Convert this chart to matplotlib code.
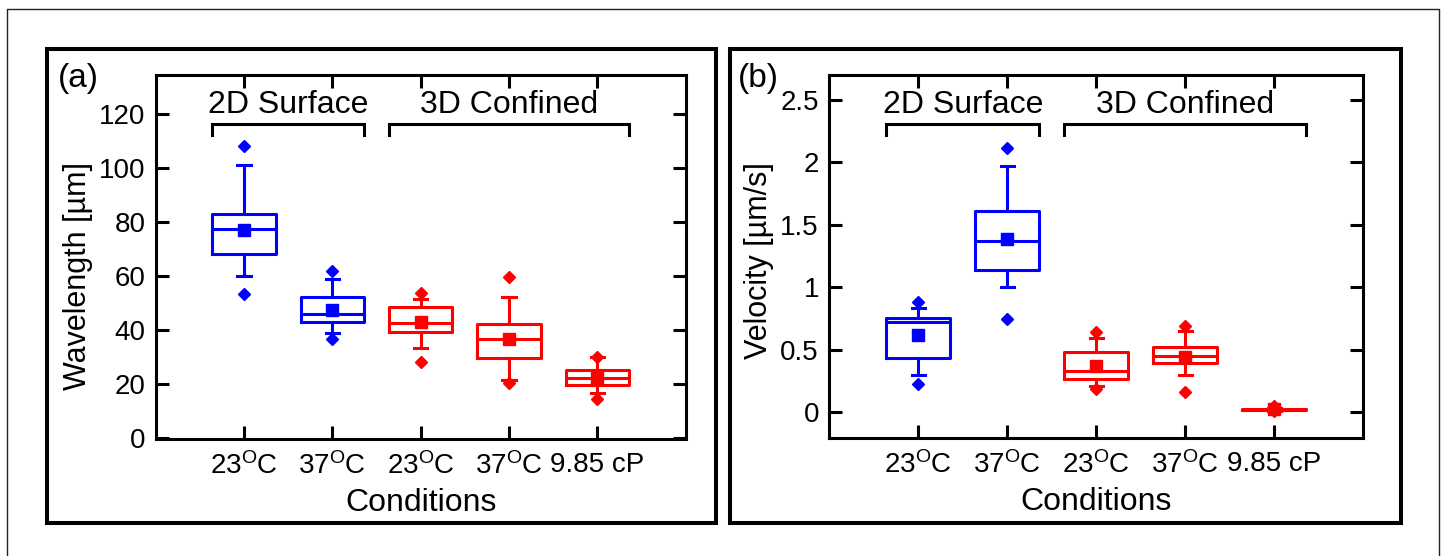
import matplotlib
matplotlib.use("Agg")
import matplotlib.pyplot as plt
from matplotlib.patches import Rectangle
from matplotlib.lines import Line2D
import matplotlib.transforms as mtransforms

plt.rcParams['font.family'] = ['Liberation Sans', 'DejaVu Sans']
plt.rcParams['mathtext.fontset'] = 'custom'
plt.rcParams['mathtext.rm'] = 'Liberation Sans'
plt.rcParams['mathtext.it'] = 'Liberation Sans:italic'

# ---- data -------------------------------------------------------------
conditions = ['23$^{\\mathrm{O}}$C', '37$^{\\mathrm{O}}$C',
              '23$^{\\mathrm{O}}$C', '37$^{\\mathrm{O}}$C', '9.85 cP']
groups = ['2D Surface', '3D Confined']
group_members = [[0, 1], [2, 3, 4]]
box_colors = ['#0000FF', '#0000FF', '#FF0000', '#FF0000', '#FF0000']

# wavelength [um]
wl_min = [53.3, 36.6, 28.3, 20.5, 14.3]
wl_whislo = [60.0, 38.8, 33.5, 21.5, 16.5]
wl_q1 = [68.1, 42.9, 39.2, 29.5, 19.6]
wl_med = [77.5, 46.1, 42.5, 36.7, 22.1]
wl_q3 = [83.2, 52.3, 48.5, 42.4, 25.3]
wl_whishi = [101.3, 58.9, 51.5, 52.2, 29.9]
wl_max = [108.4, 61.9, 53.9, 59.8, 30.1]
wl_mean = [77.3, 47.3, 43.1, 36.8, 22.3]

# velocity [um/s]
v_min = [0.222, 0.743, 0.182, 0.163, 0.005]
v_whislo = [0.296, 1.004, 0.208, 0.299, 0.010]
v_q1 = [0.430, 1.135, 0.267, 0.390, 0.015]
v_med = [0.719, 1.373, 0.326, 0.449, 0.020]
v_q3 = [0.756, 1.608, 0.478, 0.523, 0.028]
v_whishi = [0.836, 1.974, 0.590, 0.647, 0.035]
v_max = [0.879, 2.118, 0.639, 0.692, 0.050]
v_mean = [0.617, 1.386, 0.369, 0.443, 0.021]

W, H = 1444, 556
fig = plt.figure(figsize=(W / 100, H / 100), dpi=100)

LW = 2.2
BOX_W = 0.72
CAP_W = 0.15


def px_rect(x0, y0, x1, y1, lw, color='black'):
    r = Rectangle((x0 / W, 1 - y1 / H), (x1 - x0) / W, (y1 - y0) / H,
                  transform=fig.transFigure, fill=False, lw=lw,
                  edgecolor=color, clip_on=False)
    fig.add_artist(r)


# thin page border (open at the bottom) and panel frames
fig.add_artist(Line2D([6.7 / W, 6.7 / W, 1438.7 / W, 1438.7 / W],
                      [0, 1 - 9.3 / H, 1 - 9.3 / H, 0],
                      transform=fig.transFigure, color='#222222', lw=1.0))
px_rect(46.7, 49.3, 716, 522.7, 2.9)
px_rect(730, 49.3, 1401, 522.7, 2.9)


def draw_panel(ax, stats_lists, ylim, yticks, yticklabels, ylabel,
               ylabel_xy, tag_x, tag):
    mins, lo, q1, med, q3, hi, maxs, means = stats_lists
    positions = list(range(1, len(conditions) + 1))
    for i, pos in enumerate(positions):
        c = box_colors[i]
        st = [dict(whislo=lo[i], q1=q1[i], med=med[i], q3=q3[i],
                   whishi=hi[i], mean=means[i], fliers=[mins[i], maxs[i]])]
        ax.bxp(st, positions=[pos], widths=BOX_W, capwidths=CAP_W,
               showmeans=True, showfliers=True, manage_ticks=False,
               boxprops=dict(color=c, lw=LW),
               medianprops=dict(color=c, lw=LW),
               whiskerprops=dict(color=c, lw=LW),
               capprops=dict(color=c, lw=LW),
               meanprops=dict(marker='s', markerfacecolor=c,
                              markeredgecolor=c, markersize=8.5),
               flierprops=dict(marker='D', markerfacecolor=c,
                               markeredgecolor=c, markersize=6.5))

    ax.set_xlim(0, 6)
    ax.set_ylim(*ylim)
    ax.set_xticks(positions)
    ax.set_xticklabels(conditions)
    ax.set_yticks(yticks)
    ax.set_yticklabels(yticklabels)
    ax.tick_params(axis='both', direction='in', length=9.4, width=2.2,
                   top=True, right=True, labelsize=20)
    ax.tick_params(axis='y', pad=7.5)
    ax.tick_params(axis='x', pad=9)
    for sp in ax.spines.values():
        sp.set_linewidth(2.2)

    ax.set_xlabel('Conditions', fontsize=23, labelpad=6)
    ax.set_ylabel(ylabel, fontsize=22)
    ax.yaxis.set_label_coords(*ylabel_xy)

    # group brackets with labels
    trans = mtransforms.blended_transform_factory(ax.transData, ax.transAxes)
    for name, members in zip(groups, group_members):
        x0 = positions[members[0]] - BOX_W / 2
        x1 = positions[members[-1]] + BOX_W / 2
        ax.plot([x0, x0, x1, x1], [0.834, 0.8655, 0.8655, 0.834],
                color='black', lw=2.2, transform=trans, clip_on=False,
                solid_joinstyle='miter')
        ax.text((x0 + x1) / 2, 0.918, name, transform=trans, ha='center',
                va='center', fontsize=23)

    ax.text(tag_x, 0.99, tag, transform=ax.transAxes, ha='left',
            va='center', fontsize=24)


ax_a = fig.add_axes([155.7 / W, 1 - 439.3 / H, 530 / W, 364.3 / H])
draw_panel(ax_a,
           (wl_min, wl_whislo, wl_q1, wl_med, wl_q3, wl_whishi, wl_max, wl_mean),
           (-0.5, 134.6), [0, 20, 40, 60, 80, 100, 120],
           ['0', '20', '40', '60', '80', '100', '120'],
           'Wavelength [\u00b5m]', (-0.118, 0.447), -0.185, '(a)')

ax_b = fig.add_axes([829.3 / W, 1 - 438.3 / H, 534 / W, 363.3 / H])
draw_panel(ax_b,
           (v_min, v_whislo, v_q1, v_med, v_q3, v_whishi, v_max, v_mean),
           (-0.21, 2.70), [0, 0.5, 1, 1.5, 2, 2.5],
           ['0', '0.5', '1', '1.5', '2', '2.5'],
           'Velocity [\u00b5m/s]', (-0.103, 0.49), -0.172, '(b)')

fig.savefig('out.png', dpi=100)
